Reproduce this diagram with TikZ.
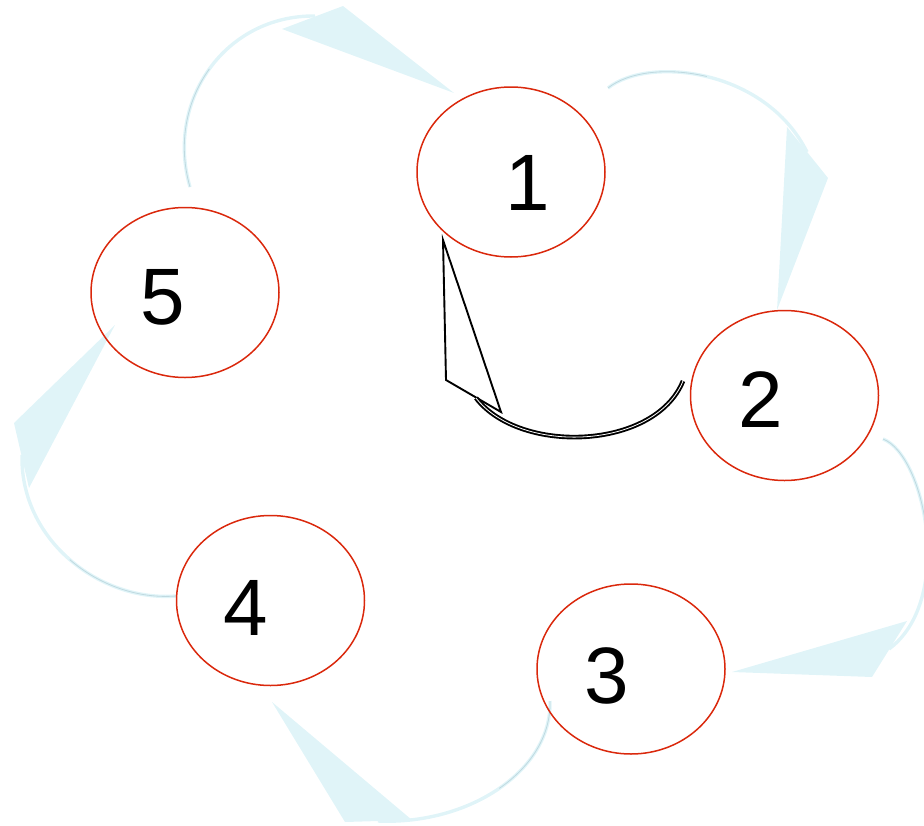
\documentclass[tikz,border=0pt]{standalone}
\usepackage{fontspec}
\setmainfont{Liberation Sans}
\usetikzlibrary{shapes.geometric,backgrounds}
\definecolor{ringred}{RGB}{218,40,12}
\definecolor{paleblue}{RGB}{224,244,248}
\definecolor{greyblue}{RGB}{170,200,208}

\begin{document}
\begin{tikzpicture}[x=1pt,y=-1pt,
  state/.style={ellipse,draw=ringred,line width=1.5pt,minimum width=188pt,minimum height=170pt,inner sep=0pt},
  digit/.style={inner sep=0pt,font=\fontsize{80}{96}\selectfont},
  flow/.style={draw=paleblue,line width=3.4pt},
  flowcore/.style={draw=greyblue,line width=0.8pt,opacity=0.6},
  head/.style={fill=paleblue},
  back/.style={draw=black,double=white,double distance=0.8pt,line width=1.9pt},
  backhead/.style={draw=black,fill=white,line width=1.9pt,line join=miter}]
\useasboundingbox (0,0) rectangle (924,825);
\node[state] (n1) at (511,172) {};
\node[state] (n2) at (784.5,395.5) {};
\node[state] (n3) at (631,669) {};
\node[state] (n4) at (270.5,600.5) {};
\node[state] (n5) at (185,292.5) {};
\node[digit] (l1) at (528,183) {1};
\node[digit] (l2) at (761,400) {2};
\node[digit] (l3) at (607,676) {3};
\node[digit] (l4) at (246,608) {4};
\node[digit] (l5) at (162.5,297) {5};
\coordinate (s51) at (190,187);
\coordinate (e51) at (315,16);
\coordinate (h51) at (454,93);
\coordinate (s12) at (608,88);
\coordinate (e12) at (807,152);
\coordinate (s23) at (883,439);
\coordinate (e23) at (889,649);
\coordinate (h23) at (732,672);
\coordinate (s34) at (550,701);
\coordinate (e34) at (378,821);
\coordinate (h34) at (272,702);
\coordinate (s45) at (176,596);
\coordinate (e45) at (22,455);
\coordinate (h45) at (115,325);
\coordinate (s21) at (683,381);
\coordinate (e21) at (476,398);
\coordinate (h21) at (443,240);
\begin{scope}[on background layer]
\draw[flow] (s51) .. controls (165,101) and (225,15) .. (e51);
\draw[flowcore] (s51) .. controls (177.5,144) and (186.25,101) .. (209.4,68.9);
\fill[head] (343,6) -- (h51) -- (282,29) -- cycle;
\draw[flow] (s12) .. controls (648,56) and (765,68) .. (e12);
\draw[flowcore] (s12) .. controls (628,72) and (667.25,67) .. (706.75,76.5);
\fill[head] (787,127) -- (n2.95) -- (828,178) -- cycle;
\draw[flow] (s23) .. controls (925,455) and (955,600) .. (e23);
\draw[flowcore] (s23) .. controls (904,447) and (922,487.25) .. (926.5,531.6);
\fill[head] (907,621) -- (h23) -- (872,677) -- cycle;
\draw[flow] (s34) .. controls (552,770) and (470,825) .. (e34);
\draw[flowcore] (s34) .. controls (551,735.5) and (531,766.5) .. (499.25,788.4);
\fill[head] (412,820) -- (h34) -- (345,822) -- cycle;
\draw[flow] (s45) .. controls (100,602) and (20,540) .. (e45);
\draw[flowcore] (s45) .. controls (138,599) and (99,585) .. (69.75,559.6);
\fill[head] (14,423) -- (h45) -- (29,488) -- cycle;
\draw[backhead] (446,380) -- (h21) -- (501,412) -- cycle;
\draw[back] (s21) .. controls (655,450) and (520,455) .. (e21);
\end{scope}
\end{tikzpicture}
\end{document}
